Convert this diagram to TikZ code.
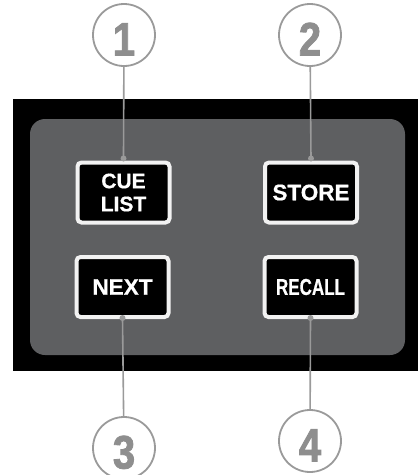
\documentclass[tikz,border=0pt]{standalone}
\usepackage{fontspec}
\setmainfont{Liberation Sans}
\newfontfamily\keyfont[BoldFeatures = {FakeBold = 0.6}]{Liberation Sans}
\newfontfamily\narrowkeyfont[FakeStretch = 0.74, BoldFeatures = {FakeBold = 0.6}]{Liberation Sans}
\newfontfamily\calloutfont[FakeStretch = 0.85, BoldFeatures = {FakeBold = 1.8}]{Liberation Sans}
\usepackage{tikz}
\usetikzlibrary{positioning, calc}
\usepackage{xcolor}
\definecolor{panelgray}{HTML}{5E5F61}
\definecolor{calloutgray}{HTML}{9A9A9A}
\definecolor{digitgray}{HTML}{8E8E8E}
\definecolor{keyrim}{HTML}{F2F2F2}

\tikzset{
    key/.style = {draw = keyrim, line width = 4pt, fill = black, rounded corners = 4pt,
        minimum width = 92pt, minimum height = 60pt, inner sep = 0pt, text = white,
        align = center, font = \keyfont\bfseries\fontsize{22.5}{23}\selectfont},
    callout/.style = {circle, draw = calloutgray, line width = 1.8pt, minimum size = 62pt,
        inner sep = 0pt, text height = 41pt, text depth = 0pt, text = digitgray,
        font = \calloutfont\bfseries\fontsize{47}{47}\selectfont},
    leader/.style = {draw = calloutgray, line width = 1.6pt},
    pin/.style = {fill = calloutgray}
}

\begin{document}
\begin{tikzpicture}[x = 1pt, y = -1pt]
    \useasboundingbox (0,0) rectangle (418,475);
    % housing and panel
    \fill[black] (13,99) rectangle (418,371);
    \fill[panelgray, rounded corners = 15pt] (30,119) rectangle (405,355);
    % keys
    \node[key, font = \keyfont\bfseries\fontsize{21}{23}\selectfont] (cue) at (123.5,192.5) {CUE\\LIST};
    \node[key] (store) at (311,192.5) {STORE};
    \node[key] (next) at (122.5,287) {NEXT};
    \node[key, font = \narrowkeyfont\bfseries\fontsize{23}{23}\selectfont] (recall) at (310.5,287) {RECALL};
    \coordinate (cue-pin) at ([yshift = 2pt]cue.north);
    \coordinate (store-pin) at ([yshift = 2pt]store.north);
    \coordinate (next-pin) at ([yshift = 1pt]next.south);
    \coordinate (recall-pin) at ([yshift = 1pt]recall.south);
    % callouts
    \node[callout] (n1) at (124,35) {1};
    \node[callout] (n2) at (310,35) {2};
    \node[callout] (n3) at (124,448) {3};
    \node[callout] (n4) at (310,441) {4};
    \draw[leader] (n1) -- (cue-pin);
    \draw[leader] (n2) -- (store-pin);
    \draw[leader] (n3) -- (next-pin);
    \draw[leader] (n4) -- (recall-pin);
    \foreach \p in {cue-pin, store-pin, next-pin, recall-pin}
        \fill[pin] (\p) circle (3pt);
\end{tikzpicture}
\end{document}
